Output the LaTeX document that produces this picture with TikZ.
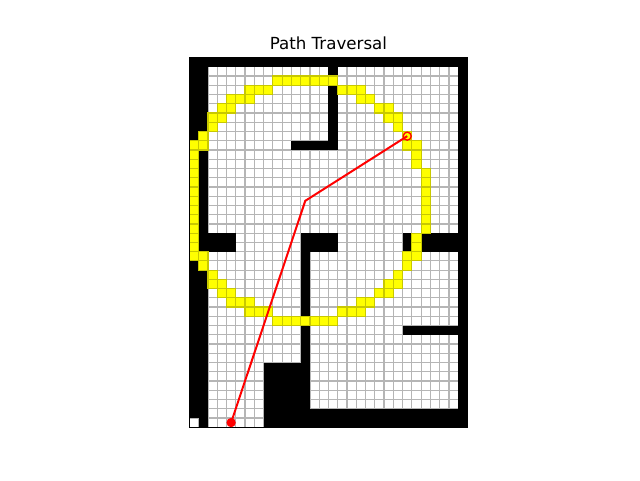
\documentclass[tikz,border=0pt]{standalone}
\usepackage{fontspec}
\setmainfont{DejaVu Sans}
\definecolor{pathyellow}{RGB}{255,255,0}
\definecolor{pathedge}{RGB}{200,200,0}
\tikzset{
  wallcell/.style={fill=black},
  pathcell/.style={fill=pathyellow, draw=pathedge, line width=0.9pt},
  gridline/.style={draw=black!29, line width=0.9pt},
  frameline/.style={draw=black, line width=0.5pt},
  routeline/.style={draw=red, line width=1.5pt},
  startmark/.style={circle, fill=red, inner sep=0pt, minimum size=7pt},
  goalmark/.style={circle, draw=red, line width=1pt, inner sep=0pt, minimum size=6pt}
}
\begin{document}
\begin{tikzpicture}[x=6.9525pt, y=-6.93pt]
    \useasboundingbox (-20.431,-6.234) rectangle (48.608,45.714);
    \fill [white] (0,0) rectangle (30,40);
    \foreach \i in {0,...,30}
        \draw [gridline] (\i,0) -- (\i,40);
    \foreach \j in {0,...,40}
        \draw [gridline] (0,\j) -- (30,\j);
    % walls, as col1/row1/col2/row2
    \foreach \a/\b/\c/\d in {0/0/30/1, 0/0/1/9, 1/0/2/8, 1/10/2/21, 0/22/1/39, 1/23/2/40,
        15/0/16/10, 11/9/16/10, 1/19/5/21, 12/19/16/21, 12/19/13/33, 8/33/13/40,
        8/38/30/40, 23/19/24/21, 24/19/30/21, 29/0/30/40, 23/29/29/30}
        \fill [wallcell] (\a,\b) rectangle (\c,\d);
    % yellow route, as col/first row/last row
    \foreach \c/\r/\s in {0/9/21, 1/8/9, 1/21/22, 2/6/7, 2/23/24, 3/5/6, 3/24/25, 4/4/5, 4/25/26,
        5/4/4, 5/26/26, 6/3/4, 6/26/27, 7/3/3, 7/27/27, 8/3/3, 8/27/27,
        9/2/2, 9/28/28, 10/2/2, 10/28/28, 11/2/2, 11/28/28, 12/2/2, 12/28/28,
        13/2/2, 13/28/28, 14/2/2, 14/28/28, 15/2/2, 15/28/28,
        16/3/3, 16/27/27, 17/3/3, 17/27/27, 18/3/4, 18/26/27, 19/4/4, 19/26/26,
        20/5/5, 20/25/25, 21/5/6, 21/24/25, 22/6/7, 22/23/24, 23/8/9, 23/21/22,
        24/9/11, 24/19/21, 25/12/18}
        \foreach \k in {\r,...,\s}
            \draw [pathcell] (\c,\k) rectangle ++(1,1);
    \draw [frameline] (0,0) rectangle (30,40);
    \node [startmark] (start) at (4.5,39.5) {};
    \coordinate (turn) at (12.5,15.5);
    \node [goalmark] (goal) at (23.5,8.5) {};
    \draw [routeline] (start.center) -- (turn) -- (goal.center);
    \node [font=\fontsize{12.5pt}{15pt}\selectfont, anchor=base] (title) at (15,-0.9) {Path Traversal};
\end{tikzpicture}
\end{document}
